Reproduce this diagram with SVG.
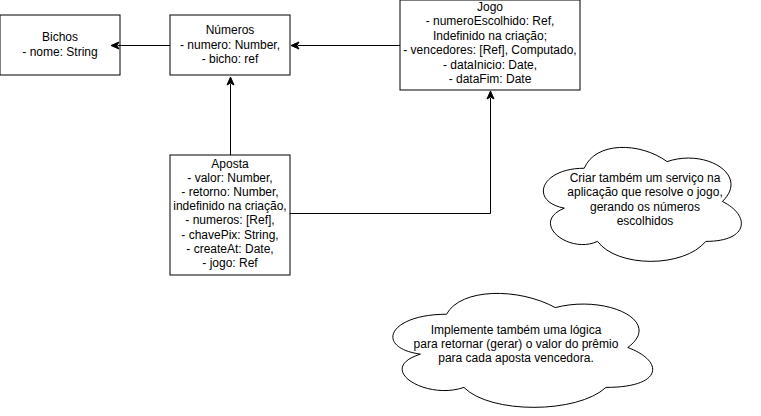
<svg xmlns="http://www.w3.org/2000/svg" width="761" height="416" viewBox="0 0 761 416">
<style>
.box{fill:#ffffff;stroke:#000000;stroke-width:1}
.cloud{fill:#ffffff;stroke:#000000;stroke-width:1}
.edge{fill:none;stroke:#000000;stroke-width:1}
.head{fill:#000000;stroke:#000000;stroke-width:1}
text{font-family:"Liberation Sans",Arial,Helvetica,sans-serif;font-size:12px;fill:#000000;text-anchor:middle}
</style>
<rect x="0" y="0" width="761" height="416" fill="#ffffff"/>
<g id="bichos">
<rect class="box" x="0" y="15" width="120" height="60"/>
<text x="60" y="41">Bichos</text>
<text x="60" y="55.5">- nome: String</text>
</g>
<g id="numeros">
<rect class="box" x="170" y="15" width="120" height="60"/>
<text x="230" y="34">Números</text>
<text x="230" y="48.5">- numero: Number,</text>
<text x="230" y="63">- bicho: ref</text>
</g>
<g id="jogo">
<rect class="box" x="400" y="0" width="180" height="90"/>
<text x="490" y="10.5">Jogo</text>
<text x="490" y="25">- numeroEscolhido: Ref,</text>
<text x="490" y="39.5">Indefinido na criação;</text>
<text x="490" y="54">- vencedores: [Ref], Computado,</text>
<text x="490" y="68.5">- dataInicio: Date,</text>
<text x="490" y="83">- dataFim: Date</text>
</g>
<g id="aposta">
<rect class="box" x="170" y="155" width="120" height="120"/>
<text x="230" y="167.5">Aposta</text>
<text x="230" y="181.7">- valor: Number,</text>
<text x="230" y="195.9">- retorno: Number,</text>
<text x="230" y="210.1">indefinido na criação,</text>
<text x="230" y="224.3">- numeros: [Ref],</text>
<text x="230" y="238.5">- chavePix: String,</text>
<text x="230" y="252.7">- createAt: Date,</text>
<text x="230" y="266.9">- jogo: Ref</text>
</g>
<g id="cloud-servico">
<path class="cloud" d="M584.25 168.25 C540.05 168.25 529 201.5 564.36 208.15 C529 222.78 568.78 254.7 597.51 241.4 C617.4 268 683.7 268 705.8 241.4 C750 241.4 750 214.8 722.38 201.5 C750 174.9 705.8 148.3 667.13 161.6 C639.5 141.65 595.3 141.65 584.25 168.25 Z"/>
<text x="645" y="181.5">Criar também um serviço na</text>
<text x="645" y="196">aplicação que resolve o jogo,</text>
<text x="645" y="210.5">gerando os números</text>
<text x="645" y="225">escolhidos</text>
</g>
<g id="cloud-premio">
<path class="cloud" d="M446.5 314.25 C388.5 314.25 374 347.5 420.4 354.15 C374 368.78 426.2 400.7 463.9 387.4 C490 414 577 414 606 387.4 C664 387.4 664 360.8 627.75 347.5 C664 320.9 606 294.3 555.25 307.6 C519 287.65 461 287.65 446.5 314.25 Z"/>
<text x="516" y="334">Implemente também uma lógica</text>
<text x="516" y="348">para retornar (gerar) o valor do prêmio</text>
<text x="516" y="362">para cada aposta vencedora.</text>
</g>
<g id="connectors">
<path class="edge" d="M170 45.5 H118"/>
<path class="head" d="M111 45.5 L119 42 L117 45.5 L119 49 Z"/>
<path class="edge" d="M400 45.5 H298"/>
<path class="head" d="M291 45.5 L299 42 L297 45.5 L299 49 Z"/>
<path class="edge" d="M230.5 155 V84"/>
<path class="head" d="M230.5 77 L234 85 L230.5 83 L227 85 Z"/>
<path class="edge" d="M290 213.5 H490.5 V98"/>
<path class="head" d="M490.5 91 L494 99 L490.5 97 L487 99 Z"/>
</g>
</svg>
